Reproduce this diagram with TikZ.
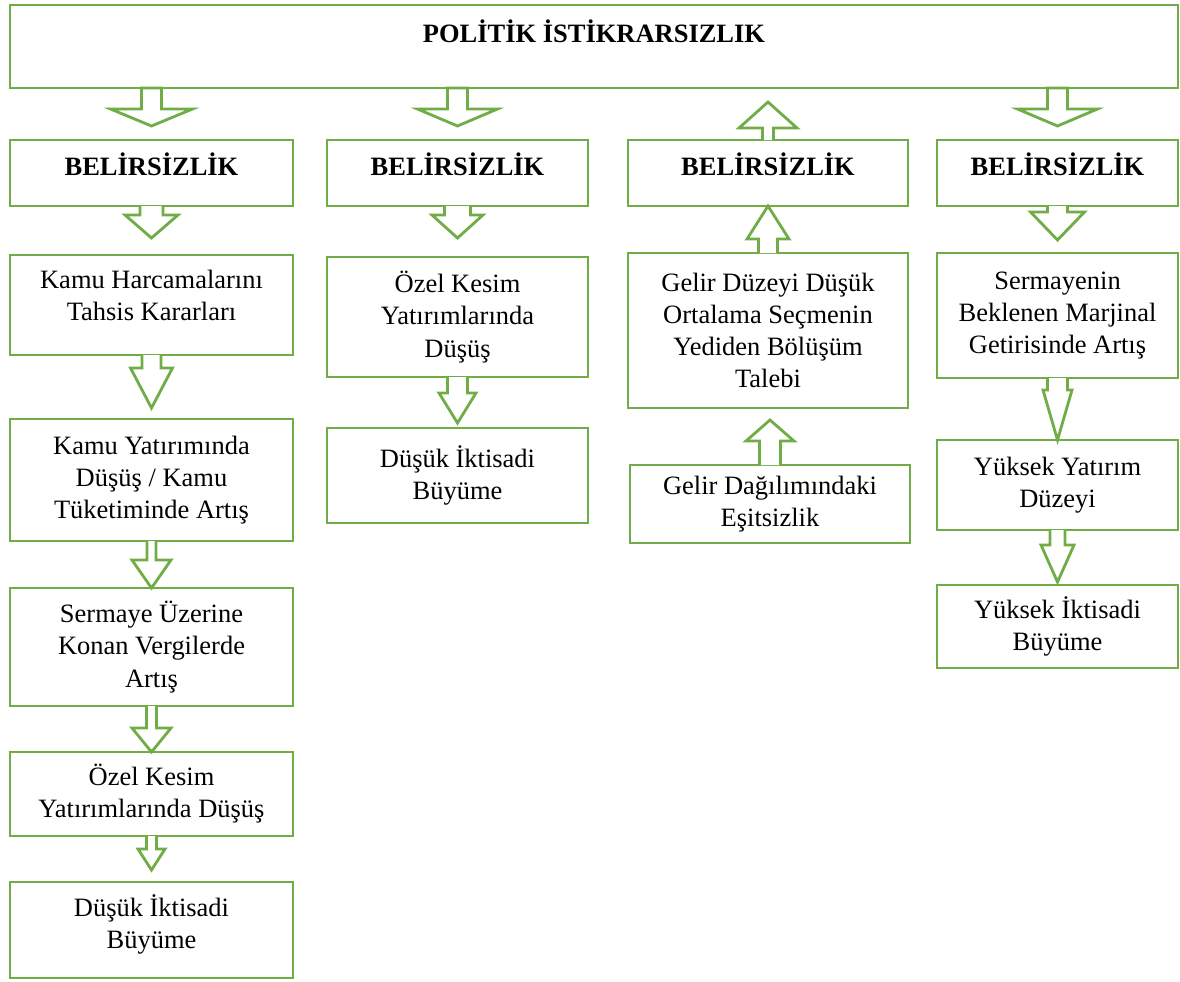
\documentclass[tikz,border=0pt]{standalone}
\usepackage{fontspec}
\setmainfont{Liberation Serif}
\usetikzlibrary{positioning, calc}
\definecolor{boxgreen}{HTML}{70AD47}
\tikzstyle{box} = [rectangle, draw=boxgreen, line width=1.2pt, align=center,
inner sep=2pt, outer sep=0pt, font=\fontsize{11.3}{13.7}\selectfont]
\tikzstyle{title} = [box, minimum width=17.52cm, inner sep=0pt, text height=0.555cm,
text depth=0.69cm, font=\fontsize{11.3}{13.7}\selectfont\bfseries]
\tikzstyle{head} = [box, minimum height=0.99cm, text depth=0.28cm,
font=\fontsize{11.3}{13.7}\selectfont\bfseries]
\tikzstyle{colA} = [minimum width=4.245cm]
\tikzstyle{colB} = [minimum width=3.915cm]
\tikzstyle{colC} = [minimum width=4.2cm]
\tikzstyle{colD} = [minimum width=3.615cm]
\tikzstyle{blockarrow} = [draw=boxgreen, line width=1.2pt, fill=white, line join=miter]

% block arrow: [end of path] {from} {to} {shaft half width} {head half width} {shaft length} {gap before target}
\newcommand{\blockarrow}[7][]{%
  \draw[blockarrow] let \p1=(#2), \p2=(#3), \n1={sign(\y2-\y1)} in
    ({\x1-#4},\y1) -- ({\x1-#4},{\y1+(\n1)*(#6)}) -- ({\x1-#5},{\y1+(\n1)*(#6)})
    -- (\x1,{\y2-(\n1)*(#7)}) -- ({\x1+#5},{\y1+(\n1)*(#6)}) -- ({\x1+#4},{\y1+(\n1)*(#6)})
    -- ({\x1+#4},\y1) #1;
}

\begin{document}
\begin{tikzpicture}
    \useasboundingbox (0,0) rectangle (17.7,-14.715);
    \node (top) [title, anchor=north west] at (0.15,-0.075) {POLİTİK İSTİKRARSIZLIK};

    \node (bel1) [head, colA, anchor=north west] at (0.15,-2.1) {BELİRSİZLİK};
    \node (bel2) [head, colB, anchor=north west] at (4.905,-2.1) {BELİRSİZLİK};
    \node (bel3) [head, colC, anchor=north west] at (9.42,-2.1) {BELİRSİZLİK};
    \node (bel4) [head, colD, anchor=north west] at (14.055,-2.1) {BELİRSİZLİK};

    \node (harc) [box, colA, minimum height=1.5cm, text depth=0.28cm, below=0.735cm of bel1] {Kamu Harcamalarını\\Tahsis Kararları};
    \node (kyat) [box, colA, minimum height=1.83cm, below=0.96cm of harc] {Kamu Yatırımında\\Düşüş / Kamu\\Tüketiminde Artış};
    \node (vergi) [box, colA, minimum height=1.77cm, below=0.705cm of kyat] {Sermaye Üzerine\\Konan Vergilerde\\Artış};
    \node (ozel1) [box, colA, minimum height=1.26cm, below=0.69cm of vergi] {Özel Kesim\\Yatırımlarında Düşüş};
    \node (dusuk1) [box, colA, minimum height=1.44cm, text depth=0.25cm, below=0.69cm of ozel1] {Düşük İktisadi\\Büyüme};

    \node (ozel2) [box, colB, minimum height=1.8cm, below=0.765cm of bel2] {Özel Kesim\\Yatırımlarında\\Düşüş};
    \node (dusuk2) [box, colB, minimum height=1.425cm, below=0.765cm of ozel2] {Düşük İktisadi\\Büyüme};

    \node (secmen) [box, colC, minimum height=2.325cm, below=0.705cm of bel3] {Gelir Düzeyi Düşük\\Ortalama Seçmenin\\Yediden Bölüşüm\\Talebi};
    \node (esit) [box, colC, minimum height=1.17cm, below=0.855cm of secmen, xshift=0.03cm] {Gelir Dağılımındaki\\Eşitsizlik};

    \node (getiri) [box, colD, minimum height=1.875cm, below=0.705cm of bel4] {Sermayenin\\Beklenen Marjinal\\Getirisinde Artış};
    \node (yatirim) [box, colD, minimum height=1.35cm, below=0.93cm of getiri] {Yüksek Yatırım\\Düzeyi};
    \node (buyume) [box, colD, minimum height=1.245cm, below=0.825cm of yatirim] {Yüksek İktisadi\\Büyüme};

    \blockarrow[-- cycle]{top.south -| bel1.north}{bel1.north}{0.15cm}{0.615cm}{0.315cm}{0.21cm}
    \blockarrow[-- cycle]{top.south -| bel2.north}{bel2.north}{0.15cm}{0.6cm}{0.315cm}{0.21cm}
    \blockarrow{bel3.north}{top.south}{0.0825cm}{0.435cm}{0.18cm}{0.21cm}
    \blockarrow[-- cycle]{top.south -| bel4.north}{bel4.north}{0.15cm}{0.6cm}{0.315cm}{0.21cm}

    \blockarrow{bel1.south}{harc.north}{0.1725cm}{0.3975cm}{0.135cm}{0.255cm}
    \blockarrow{harc.south}{kyat.north}{0.1425cm}{0.315cm}{0.195cm}{0.165cm}
    \blockarrow{kyat.south}{vergi.north}{0.0675cm}{0.2925cm}{0.285cm}{0cm}
    \blockarrow{vergi.south}{ozel1.north}{0.075cm}{0.2925cm}{0.33cm}{0cm}
    \blockarrow{ozel1.south}{dusuk1.north}{0.075cm}{0.2025cm}{0.195cm}{0.18cm}

    \blockarrow{bel2.south}{ozel2.north}{0.195cm}{0.3825cm}{0.135cm}{0.285cm}
    \blockarrow{ozel2.south}{dusuk2.north}{0.15cm}{0.2775cm}{0.24cm}{0.075cm}

    \blockarrow{secmen.north}{bel3.south}{0.1425cm}{0.315cm}{0.21cm}{0cm}
    \blockarrow{esit.north}{secmen.south}{0.1575cm}{0.36cm}{0.36cm}{0.18cm}

    \blockarrow{bel4.south}{getiri.north}{0.15cm}{0.405cm}{0.09cm}{0.195cm}
    \blockarrow{getiri.south}{yatirim.north}{0.15cm}{0.2175cm}{0.18cm}{0cm}
    \blockarrow{yatirim.south}{buyume.north}{0.1125cm}{0.2475cm}{0.225cm}{0.045cm}
\end{tikzpicture}
\end{document}
